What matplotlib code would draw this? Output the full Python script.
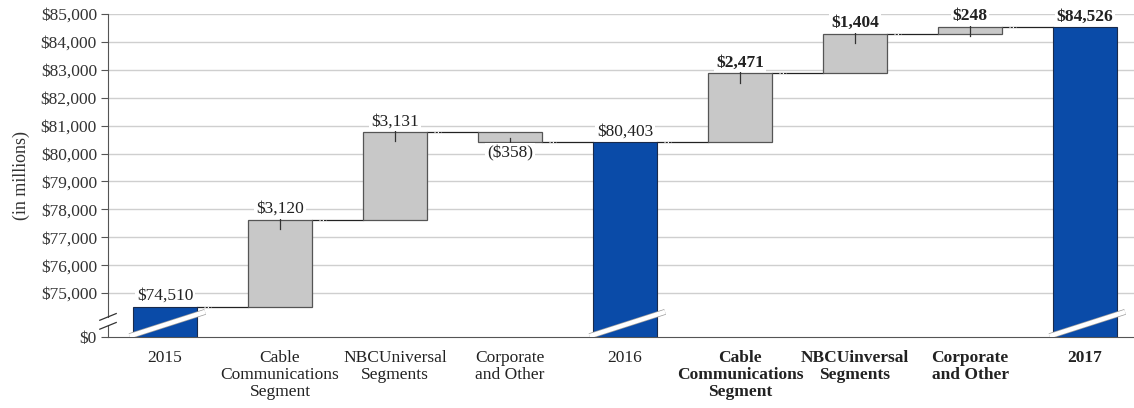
import numpy as np
import matplotlib.pyplot as plt
import matplotlib.patheffects as pe

# 데이터
categories = ['2015', 'Cable\nCommunications\nSegment', 'NBCUniversal\nSegments',
              'Corporate\nand Other', '2016', 'Cable\nCommunications\nSegment',
              'NBCUinversal\nSegments', 'Corporate\nand Other', '2017']
changes = [74510, 3120, 3131, -358, 80403, 2471, 1404, 248, 84526]
is_total = [True, False, False, False, True, False, False, False, True]
value_labels = ['$74,510', '$3,120', '$3,131', '($358)', '$80,403',
                '$2,471', '$1,404', '$248', '$84,526']
bold_flags = [False, False, False, False, False, True, True, True, True]

ytick_values = [75000, 76000, 77000, 78000, 79000, 80000, 81000, 82000, 83000, 84000, 85000]

# 축 절단: $0 을 73,425 위치에 그림
BREAK_BASE = 73425

plt.rcParams['font.family'] = ['Liberation Serif', 'DejaVu Serif']

fig = plt.figure(figsize=(11.34, 4.08), dpi=100)
ax = fig.add_axes([108 / 1134, 71 / 408, 1026 / 1134, 323 / 408])

blue = '#0A4BA8'
gray = '#C8C8C8'
width = 0.557
fs = 12.5
x = np.arange(len(categories))

# 막대 위치 계산
bottoms, tops = [], []
running = 0
for c, tot in zip(changes, is_total):
    if tot:
        running = c
        bottoms.append(BREAK_BASE)
        tops.append(c)
    else:
        start = running
        running = running + c
        bottoms.append(min(start, running))
        tops.append(max(start, running))

for i in range(len(categories)):
    if is_total[i]:
        ax.bar(x[i], tops[i] - bottoms[i], width, bottom=bottoms[i],
               color=blue, edgecolor='#1a2a4a', linewidth=0.8, zorder=3)
        # 절단 표시 (흰색 사선)
        xs = [x[i] - width / 2 - 0.03, x[i] + width / 2 + 0.07]
        ys = [BREAK_BASE + 30, BREAK_BASE + 900]
        ax.plot(xs, ys, color='white', lw=3.2, zorder=4, solid_capstyle='butt',
                path_effects=[pe.Stroke(linewidth=4.2, foreground='#9a9a9a'), pe.Normal()])
    else:
        ax.bar(x[i], tops[i] - bottoms[i], width, bottom=bottoms[i],
               color=gray, edgecolor='#555555', linewidth=0.9, zorder=3)
        # 막대 끝 작은 눈금선
        if changes[i] > 0:
            end = tops[i]
            ax.plot([x[i], x[i]], [end + 60, end - 330], color='#333333', lw=0.9, zorder=4)
        else:
            end = bottoms[i]
            ax.plot([x[i], x[i]], [end - 60, end + 170], color='#333333', lw=0.9, zorder=4)

# 연결선
level = 0
for i in range(len(categories) - 1):
    if is_total[i]:
        level = changes[i]
    else:
        level = level + changes[i]
    ax.plot([x[i] + width / 2, x[i + 1] - width / 2], [level, level],
            color='#222222', lw=0.9, zorder=2)
    # 막대 바로 옆의 흰 점선 부분
    ax.plot([x[i] + width / 2 + 0.06, x[i] + width / 2 + 0.12], [level, level],
            color='white', lw=0.8, ls=(0, (1, 2)), zorder=2.5)

# 값 라벨
for i in range(len(categories)):
    weight = 'bold' if bold_flags[i] else 'normal'
    if changes[i] < 0 and not is_total[i]:
        ax.annotate(value_labels[i], (x[i], bottoms[i]), xytext=(0, -2),
                    textcoords='offset points', ha='center', va='top',
                    fontsize=fs, fontweight=weight, color='#222222', zorder=5,
                    bbox=dict(boxstyle='square,pad=0.1', fc='white', ec='none'))
    else:
        ax.annotate(value_labels[i], (x[i], tops[i]), xytext=(0, 2),
                    textcoords='offset points', ha='center', va='bottom',
                    fontsize=fs, fontweight=weight, color='#222222', zorder=5,
                    bbox=dict(boxstyle='square,pad=0.1', fc='white', ec='none'))

# 축 설정
ax.set_xlim(-0.496, 8.426)
ax.set_ylim(BREAK_BASE, 85000)
ax.set_yticks([BREAK_BASE] + ytick_values)
ax.set_yticklabels(['$0'] + ['${:,}'.format(v) for v in ytick_values], fontsize=fs, color='#333333')
ax.set_xticks(x)
ax.set_xticklabels(categories, fontsize=fs, color='#222222', linespacing=1.1, va='top')
for lbl, b in zip(ax.get_xticklabels(), bold_flags):
    if b:
        lbl.set_fontweight('bold')
ax.tick_params(axis='x', length=0, pad=9)
ax.tick_params(axis='y', length=5, color='#555555', pad=3)
ax.set_ylabel('(in millions)', fontsize=13, color='#333333', labelpad=8)

for yv in ytick_values:
    ax.axhline(yv, color='#cfcfcf', lw=1.0, zorder=0)

for s in ['top', 'right']:
    ax.spines[s].set_visible(False)
ax.spines['left'].set_color('#555555')
ax.spines['bottom'].set_color('#555555')

# y축 절단 표시
trans = ax.get_yaxis_transform()
ax.plot([-0.006, 0.006], [BREAK_BASE + 560, BREAK_BASE + 560], color='white', lw=5,
        transform=trans, clip_on=False, zorder=6)
for dy in [400, 720]:
    ax.plot([-0.008, 0.008], [BREAK_BASE + dy - 120, BREAK_BASE + dy + 120],
            color='#333333', lw=0.9, transform=trans, clip_on=False, zorder=7)

plt.savefig('out.png', dpi=100)
